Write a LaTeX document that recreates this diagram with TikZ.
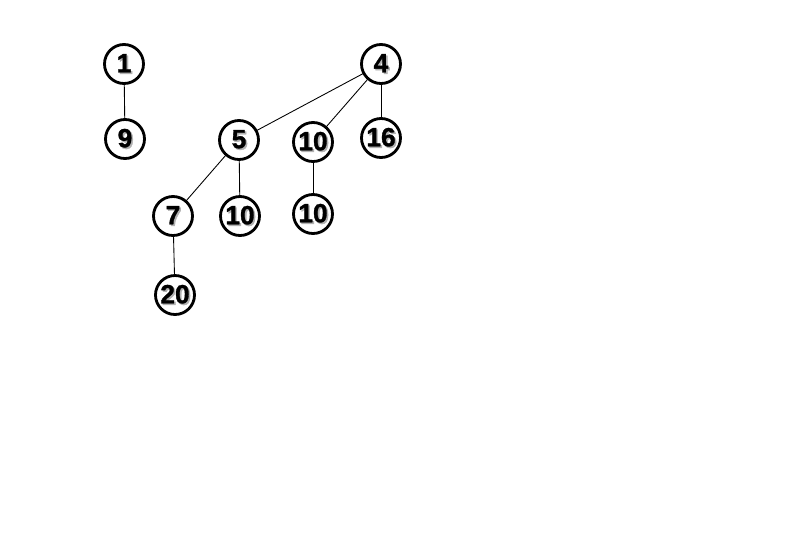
\documentclass[tikz,border=0pt]{standalone}
\usepackage{fontspec}
\usepackage{tikz}
\usetikzlibrary{arrows}
\usepackage{tkz-berge}
\newfontfamily\keyfont[BoldFeatures={FakeBold=1.2}]{Liberation Sans}
\newcommand{\shd}[1]{\makebox[0pt][l]{\hspace{0.9pt}\raisebox{-0.9pt}{\color{black!30}#1}}#1}

\begin{document}
\begin{tikzpicture}
		\useasboundingbox (0,0) rectangle (16,-10.9);
		\GraphInit[vstyle=Normal]
		\tikzset{VertexStyle/.style = {draw=black,shape=circle,line width=1.6pt,minimum size=0.78cm,inner sep=0pt,font=\keyfont\bfseries\fontsize{15}{17}\selectfont}}
		% first tree
		\Vertex[x=2.48,y=-1.28,L=\shd{1}]{A}
		\Vertex[x=2.50,y=-2.78,L=\shd{9}]{B}
		% second tree
		\Vertex[x=7.62,y=-1.28,L=\shd{4}]{C}
		\Vertex[x=4.78,y=-2.80,L=\shd{5}]{C1}
		\Vertex[x=6.26,y=-2.84,L=\shd{10}]{C2}
		\Vertex[x=7.62,y=-2.76,L=\shd{16}]{C3}
		\Vertex[x=3.46,y=-4.32,L=\shd{7}]{C11}
		\Vertex[x=4.80,y=-4.32,L=\shd{10}]{C12}
		\Vertex[x=6.26,y=-4.28,L=\shd{10}]{C21}
		\Vertex[x=3.50,y=-5.90,L=\shd{20}]{C111}
		\tikzstyle{EdgeStyle}=[draw=black,line width=0.5pt]
		\Edge[](A)(B)
		\Edge[](C)(C1)
		\Edge[](C)(C2)
		\Edge[](C)(C3)
		\Edge[](C1)(C11)
		\Edge[](C1)(C12)
		\Edge[](C2)(C21)
		\Edge[](C11)(C111)
	\end{tikzpicture}
\end{document}
